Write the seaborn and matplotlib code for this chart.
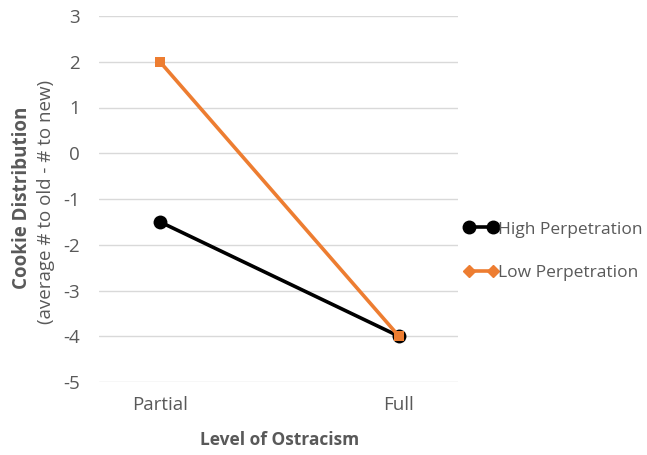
import matplotlib
matplotlib.use("Agg")
import matplotlib.pyplot as plt
import seaborn as sns
import pandas as pd
from matplotlib.lines import Line2D

# chart data
levels = ["Partial", "Full"]
high_perp = [-1.5, -4]
low_perp = [2, -4]
series_names = ["High Perpetration", "Low Perpetration"]

df = pd.DataFrame({
    "level": levels * 2,
    "value": high_perp + low_perp,
    "group": [series_names[0]] * 2 + [series_names[1]] * 2,
})

sns.set_theme(style="white")
plt.rcParams["font.family"] = ["Open Sans", "DejaVu Sans"]
plt.rcParams["axes.unicode_minus"] = False
text_col = "#595959"

fig = plt.figure(figsize=(6.47, 4.55), dpi=100)
ax = fig.add_axes([99 / 647, 1 - 382 / 455, 359 / 647, 366 / 455])

palette = {series_names[0]: "#000000", series_names[1]: "#ED7D31"}
markers = {series_names[0]: "o", series_names[1]: "s"}
sns.lineplot(data=df, x="level", y="value", hue="group", style="group",
             palette=palette, markers=markers, dashes=False, linewidth=2.6,
             markersize=8, markeredgewidth=0, sort=False, legend=False, ax=ax)
# black marker sizes a bit bigger, orange square smaller
for ln in ax.get_lines():
    if ln.get_marker() == "o":
        ln.set_markersize(10)
    else:
        ln.set_markersize(7)

ax.set_xlim(-0.255, 1.247)
ax.set_ylim(-5, 3)
ax.set_yticks(range(-5, 4))
ax.grid(axis="y", color="#D9D9D9", linewidth=1)
ax.grid(axis="x", visible=False)
for s in ax.spines.values():
    s.set_visible(False)
ax.tick_params(axis="both", colors=text_col, labelsize=13.5, length=0)
ax.tick_params(axis="y", pad=14)
ax.tick_params(axis="x", pad=10)
ax.set_xlabel("")
ax.set_ylabel("")

fig.text(280 / 647, 1 - 440 / 455, "Level of Ostracism", ha="center", va="center",
         fontsize=12.5, fontweight="bold", color=text_col)
fig.text(22 / 647, 1 - 198 / 455, "Cookie Distribution", rotation=90, ha="center",
         va="center", fontsize=13.5, fontweight="bold", color=text_col)
fig.text(46 / 647, 1 - 202 / 455, "(average # to old - # to new)", rotation=90,
         ha="center", va="center", fontsize=13.5, color=text_col)

handles = [
    Line2D([], [], color="#000000", marker="o", markersize=9, linewidth=2.6),
    Line2D([], [], color="#ED7D31", marker="D", markersize=6, linewidth=2.6),
]
fig.legend(handles, series_names, loc="center left",
           bbox_to_anchor=(448 / 647, 1 - 251 / 455), frameon=False,
           fontsize=12.5, labelcolor=text_col, handlelength=2.0, handletextpad=0.0,
           labelspacing=1.55, numpoints=2)

fig.savefig("out.png", dpi=100)
